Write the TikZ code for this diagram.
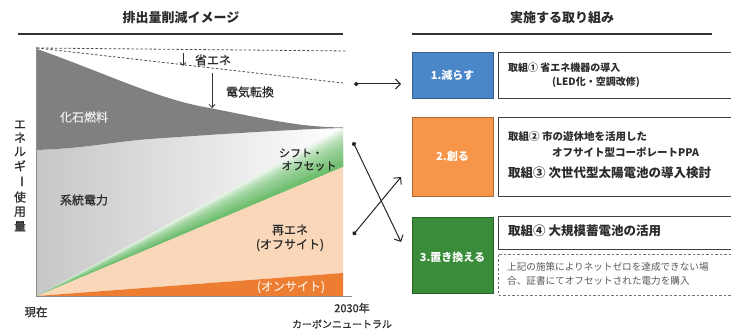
\documentclass[tikz,border=0pt]{standalone}
\usepackage{fontspec}
\usepackage{graphicx}
\setmainfont{Noto Sans CJK JP}
\newfontfamily\jpm[FakeBold=0.8]{Noto Sans CJK JP}
\usetikzlibrary{arrows.meta}
\definecolor{fossil}{HTML}{808080}
\definecolor{peach}{HTML}{FBD7BA}
\definecolor{onsite}{HTML}{ED7D31}
\definecolor{gband}{HTML}{5DB85D}
\definecolor{bluebox}{HTML}{4A87C8}
\definecolor{orangebox}{HTML}{F7964A}
\definecolor{greenbox}{HTML}{3A8C3A}
\definecolor{txt}{HTML}{2B2B2B}
\newcommand{\fs}[1]{\fontsize{#1}{#1}\selectfont}
\tikzset{
  lbl/.style={inner sep=0pt, text=txt, font=\jpm\fs{12}},
  ttl/.style={inner sep=0pt, text=txt, font=\fs{13}\bfseries},
  rtxt/.style={inner sep=0pt, anchor=west, text=txt},
  colbox/.style={draw=#1!70!black, fill=#1, line width=0.8pt},
  wbox/.style={draw=black!75, line width=0.8pt, fill=white},
  dashln/.style={draw=black!70, line width=0.8pt, dash pattern=on 2.5pt off 2pt},
  conn/.style={draw=black!85, line width=1pt, {Circle[length=4.5pt]}-{Straight Barb[length=5pt,width=10pt]}},
  boxlbl/.style={inner sep=0pt, text=white, font=\fs{11}\bfseries}
}
\begin{document}
\begin{tikzpicture}[x=1pt,y=-1pt]
\useasboundingbox (0,0) rectangle (731,331);
\clip (0,0) rectangle (731,331);
\fill[white] (0,0) rectangle (731,331);
% titles
\node[ttl] (t1) at (181,18) {排出量削減イメージ};
\node[ttl] (t2) at (562,18) {実施する取り組み};
\draw[line width=1.3pt, black!80] (18,34) -- (343,34);
\draw[line width=1.3pt, black!80] (412,34) -- (712,34);
% chart areas
\shade[left color=black!22, right color=white]
  (37,150) .. controls (90,148) and (110,142) .. (150,139) .. controls (220,134) and (300,129) .. (343,128) -- (37,296) -- cycle;
\foreach \w in {3,6,...,39} {
  \fill[gband, opacity=0.13] (37,296) -- (343,167-\w) -- (343,167) -- cycle;
}
\fill[gband, opacity=0.25] (37,296) -- (343,160) -- (343,167) -- cycle;
\fill[peach] (37,296) -- (343,167) -- (343,273) -- cycle;
\fill[onsite] (37,296) -- (343,273) -- (343,296) -- cycle;
\fill[fossil] (37,49) .. controls (110,75) and (160,100) .. (210,108) .. controls (270,120) and (300,127) .. (343,127.5)
  -- (343,128) .. controls (300,129) and (220,134) .. (150,139) .. controls (110,142) and (90,148) .. (37,150) -- cycle;
% axes
\draw[black!45, line width=0.8pt] (36,47) -- (36,296) -- (352,296);
% dashed lines
\draw[dashln] (37,48) -- (347,51);
\draw[dashln] (37,48) -- (343,83);
% small arrows
\draw[black!80, line width=0.8pt, -{Straight Barb[length=3pt,width=6pt]}] (183,53) -- (183,66);
\draw[black!80, line width=0.8pt, -{Straight Barb[length=3pt,width=6pt]}] (212,73) -- (212,108);
% chart labels
\node[lbl] (se) at (213,60) {省エネ};
\node[lbl] (dk) at (250,92) {電気転換};
\node[lbl, text=black!8] (kf) at (84,117) {化石燃料};
\node[lbl] (kt) at (84,200) {系統電力};
\node[lbl, font=\jpm\fs{11}] (sf1) at (301,153) {シフト・};
\node[lbl, font=\jpm\fs{11}] (sf2) at (309,166) {オフセット};
\node[lbl] (re1) at (290,230) {再エネ};
\node[lbl] (re2) at (290,245) {(オフサイト)};
\node[lbl, text=peach!60!white] (os) at (291,287) {(オンサイト)};
\node[lbl, font=\jpm\fs{11.5}] (now) at (36,312) {現在};
\node[lbl, font=\jpm\fs{11}] (y30) at (352,308) {2030年};
\node[lbl, font=\jpm\fs{10}] (cn) at (342,324) {カーボンニュートラル};
\node[lbl, align=center, font=\jpm\fs{12}, text=txt] (yl) at (20,176)
  {\shortstack{エ\\[1.1pt]ネ\\[1.1pt]ル\\[1.1pt]ギ\\[1.1pt]\rotatebox[origin=c]{-90}{ー}\\[1.1pt]使\\[1.1pt]用\\[1.1pt]量}};
% right boxes
\node[colbox=bluebox, minimum width=81pt, minimum height=46pt, inner sep=0pt] (b1) at (452.5,75) {};
\node[boxlbl] at (b1) {1.減らす};
\node[colbox=orangebox, minimum width=81pt, minimum height=79pt, inner sep=0pt] (b2) at (452.5,156.5) {};
\node[boxlbl] at (b2) {2.創る};
\node[colbox=greenbox, minimum width=81pt, minimum height=76pt, inner sep=0pt] (b3) at (452.5,255) {};
\node[boxlbl] at (452.5,257) {3.置き換える};
\draw[wbox] (740,52) -- (498,52) -- (498,98) -- (740,98);
\draw[wbox] (740,117) -- (498,117) -- (498,196) -- (740,196);
\draw[wbox] (740,216) -- (498,216) -- (498,249) -- (740,249);
\draw[dashln, draw=black!55] (740,254) -- (498,254) -- (498,295) -- (740,295);
\node[rtxt, font=\fs{10}\bfseries] (r1a) at (508,68) {取組① 省エネ機器の導入};
\node[rtxt, font=\fs{10}\bfseries] (r1b) at (552,82) {(LED化・空調改修)};
\node[rtxt, font=\fs{10.5}\bfseries] (r2a) at (508,137) {取組② 市の遊休地を活用した};
\node[rtxt, font=\fs{10.5}\bfseries] (r2b) at (552,152) {オフサイト型コーポレートPPA};
\node[rtxt, font=\fs{12.5}\bfseries] (r3) at (508,173) {取組③ 次世代型太陽電池の導入検討};
\node[rtxt, font=\fs{12.5}\bfseries] (r4) at (508,231) {取組④ 大規模蓄電池の活用};
\node[rtxt, font=\fs{9.6}, text=black!65] (n1) at (507,267) {上記の施策によりネットゼロを達成できない場};
\node[rtxt, font=\fs{9.6}, text=black!65] (n2) at (507,281) {合、証書にてオフセットされた電力を購入};
% connectors
\coordinate (d1) at (354,84);
\coordinate (d2) at (353,142);
\coordinate (d3) at (353,235);
\coordinate (e1) at (401,84);
\coordinate (e2) at (401,242);
\coordinate (e3) at (401,177);
\draw[conn] (d1) -- (e1);
\draw[conn] (d2) -- (e2);
\draw[conn] (d3) -- (e3);
\end{tikzpicture}
\end{document}
